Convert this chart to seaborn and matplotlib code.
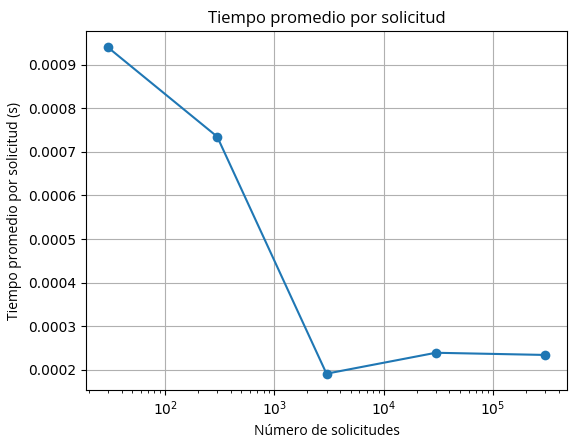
import pandas as pd
import seaborn as sns
import matplotlib.pyplot as plt

# Datos
num_solicitudes = [30, 300, 3000, 30000, 300000]
tiempo_promedio = [0.000940, 0.000735, 0.000191, 0.000239, 0.000234]

df = pd.DataFrame({"n": num_solicitudes, "t": tiempo_promedio})

sns.set_style("ticks")
plt.rcParams['font.family'] = ['DejaVu Sans']
plt.rcParams.update({"text.color": "black", "axes.labelcolor": "black",
                     "xtick.color": "black", "ytick.color": "black"})

fig = plt.figure(figsize=(5.75, 4.46), dpi=100)
ax = fig.add_axes([86 / 575, 1 - 390 / 446, (567 - 86) / 575, (390 - 31) / 446])

sns.lineplot(data=df, x="n", y="t", marker="o", markersize=7, markeredgewidth=0,
             color="#1f77b4", linewidth=1.5, ax=ax)
ax.set_xscale("log")

label_font = ['Open Sans', 'DejaVu Sans']
ax.set_title("Tiempo promedio por solicitud", family=label_font, fontsize=12)
ax.set_xlabel("Número de solicitudes", family=label_font, fontsize=10)
ax.set_ylabel("Tiempo promedio por solicitud (s)", family=label_font, fontsize=10)
ax.grid(True, color="#b0b0b0", linewidth=0.8)
ax.tick_params(labelsize=10)
for s in ax.spines.values():
    s.set_color("black")
    s.set_linewidth(0.8)

plt.savefig("out.png")
